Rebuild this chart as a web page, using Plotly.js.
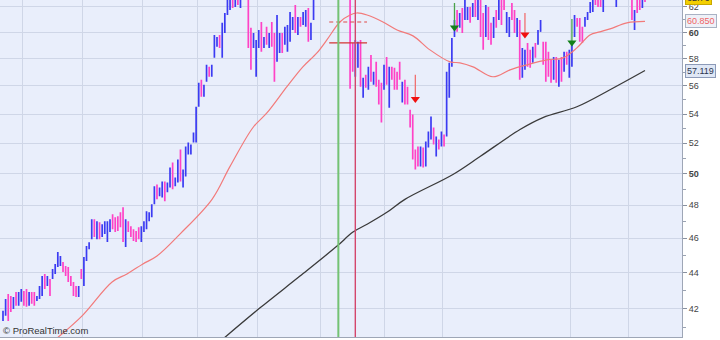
<!DOCTYPE html>
<html>
<head>
<meta charset="utf-8">
<script src="https://cdn.plot.ly/plotly-3.0.1.min.js"></script>
<style>html,body{margin:0;padding:0;background:#fff;}#chart{width:720px;height:340px;}</style>
</head>
<body>
<div id="chart"></div>
<script>
// ---- OHLC bars (daily) ----
const openP = [
41.5,41.8,42.6,42.5,42.1,42.8,42.3,42.5,42.9,42.9,
42.3,42.8,42.75,42.5,42.6,42.9,43.8,43.35,43.5,43.75,
44.0,44.45,44.5,44.5,44.3,44.2,43.7,43.4,43.1,42.75,
44.1,43.5,44.8,45.45,46.1,46.9,46.2,46.8,46.2,46.4,
46.0,46.5,47.3,47.1,47.2,47.4,47.6,45.8,46.9,46.6,
46.4,46.3,46.5,46.0,46.5,46.7,47.1,47.4,48.2,49.1,
48.65,48.7,49.3,48.9,49.3,50.5,49.3,49.6,51.3,49.3,
50.1,51.4,51.4,52.2,52.3,54.7,56.2,55.4,56.5,57.2,
56.8,58.2,59.0,59.6,58.3,60.2,61.6,62.0,63.2,62.3,
63.5,62.2,63.2,64.1,63.4,60.0,59.0,57.0,59.0,60.6,
58.9,60.2,59.0,60.5,59.7,58.1,58.6,59.8,59.2,58.8,
59.5,60.3,61.9,60.0,61.0,60.7,60.6,61.7,59.6,61.1,
62.8,63.4,64.1,63.7,64.5,65.2,64.7,64.1,65.3,64.6,
63.6,64.5,63.9,63.2,58.9,57.0,57.6,59.1,55.3,56.6,
55.9,58.0,56.2,57.5,56.2,55.9,55.9,57.9,54.8,57.2,
57.1,56.8,57.5,55.0,56.2,55.7,54.1,53.7,51.3,51.6,
50.7,51.5,50.7,51.9,52.4,52.9,51.3,52.1,51.9,52.45,
52.6,55.4,57.6,59.8,61.5,60.5,61.7,61.1,61.1,61.8,
61.4,62.5,61.2,62.5,61.2,59.9,61.7,60.5,59.7,61.5,
61.2,62.4,62.8,60.1,59.8,62.1,61.5,59.8,60.7,56.8,
57.3,58.9,58.4,57.8,59.0,59.2,60.1,59.0,59.0,58.3,
57.7,56.6,57.9,56.1,57.9,57.2,58.3,56.8,57.6,59.8,
61.0,60.9,60.2,60.5,61.05,61.6,61.7,62.8,62.9,62.8,
61.8,62.9,63.8,63.0,63.9,62.2,63.0,63.5,64.3,63.8,
63.4,63.0,60.4,62.8,62.8,62.1,62.95
];
const highP = [
41.89,42.54,42.81,42.70,42.65,42.92,42.92,43.09,42.98,43.09,
42.92,42.92,42.92,42.70,43.26,43.81,43.93,43.81,43.64,44.21,
44.50,45.19,44.96,44.61,44.38,44.33,43.81,43.48,43.26,43.26,
44.21,44.90,45.54,45.77,47.14,47.14,47.02,46.96,46.84,47.02,
47.02,47.14,47.45,47.26,47.32,47.57,47.88,47.14,47.02,46.72,
46.54,46.43,46.66,46.72,47.02,47.63,47.57,48.06,49.19,49.31,
49.12,49.50,49.50,49.44,50.40,50.72,49.76,50.92,51.58,50.27,
51.78,52.05,51.92,52.72,54.51,56.22,56.44,56.08,57.54,57.39,
57.54,59.80,59.65,59.80,60.74,61.52,63.2,63.4,63.5,63.6,
63.8,63.7,64.2,64.5,63.9,60.35,59.96,59.42,60.19,60.81,
59.65,60.43,59.96,60.81,59.96,61.36,59.96,59.96,60.43,60.58,
61.60,61.20,62.16,61.20,61.20,61.60,61.76,61.92,60.74,62.9,
63.6,64.2,64.4,64.8,65.3,65.5,65.0,65.2,65.6,64.8,
64.6,64.7,64.2,63.5,59.19,59.42,59.27,59.42,56.59,56.80,
57.39,58.28,57.02,57.76,56.44,56.22,57.54,58.13,57.39,57.39,
57.32,57.02,57.76,56.29,56.44,55.94,54.30,53.96,51.58,51.78,
51.78,51.72,52.12,52.79,53.82,53.07,52.45,52.25,52.79,52.59,
57.02,57.69,59.57,60.97,61.76,61.52,61.92,62.8,62.00,62.00,
62.32,62.8,62.9,62.8,61.52,62.16,62.00,60.74,61.20,61.76,
62.9,62.7,63.0,61.60,61.20,62.32,61.76,61.12,60.97,58.81,
58.66,59.19,58.66,58.89,59.19,60.19,60.97,59.27,59.27,58.51,
57.91,58.13,58.13,57.91,58.13,58.51,58.51,58.66,59.27,61.36,
61.12,61.12,60.43,61.20,61.60,62.40,62.9,63.0,63.1,63.0,
63.1,63.8,64.0,64.2,64.1,63.2,63.9,64.4,64.5,64.0,
63.6,63.2,61.76,63.0,63.0,63.1,63.0
];
const lowP = [
41.35,41.62,41.35,41.83,41.99,42.16,42.16,42.38,42.16,42.11,
42.16,42.27,42.16,42.43,42.54,42.70,43.09,43.26,42.70,43.64,
43.93,44.33,44.38,44.04,43.81,43.48,43.26,42.70,42.65,42.65,
43.64,43.26,44.67,45.36,45.95,46.07,45.95,45.95,46.07,46.25,
45.78,46.37,46.54,46.37,46.43,46.66,45.78,45.48,46.37,46.07,
45.84,45.78,45.95,45.78,46.37,46.54,47.02,47.26,48.06,48.37,
48.56,48.49,48.25,48.81,49.12,49.00,49.19,49.44,49.50,49.12,
49.82,51.25,51.25,52.05,52.05,54.51,55.22,55.22,56.29,56.66,
56.66,58.06,58.89,58.81,58.06,59.96,61.36,61.76,61.92,62.0,
62.16,61.92,62.9,63.0,58.81,57.17,58.81,56.66,58.81,58.51,
58.81,59.04,58.81,58.89,56.29,57.76,58.43,58.43,59.04,58.51,
59.27,60.19,59.96,59.80,60.43,60.58,60.43,59.27,59.42,60.97,
62.7,63.2,63.4,63.5,64.2,64.4,63.9,63.9,64.3,63.6,
63.3,63.5,62.9,55.79,57.02,56.66,57.32,55.94,55.15,55.86,
55.72,56.29,56.08,55.94,54.66,53.41,55.72,56.08,54.44,56.44,
55.72,55.72,56.44,54.80,54.66,54.66,53.07,50.92,50.27,50.47,
50.47,50.40,50.47,51.72,52.25,51.92,51.12,51.58,51.78,51.78,
52.45,55.15,57.39,59.65,60.04,60.35,59.96,60.97,60.97,60.74,
61.20,61.20,60.97,59.65,58.66,59.65,59.42,59.04,59.57,60.35,
60.97,60.58,61.76,59.96,59.65,60.97,59.96,59.65,56.44,56.59,
57.17,57.39,57.32,57.69,58.06,59.04,60.04,57.54,56.29,56.66,
56.22,56.44,56.22,55.94,56.29,57.02,57.54,56.59,57.39,59.65,
60.43,59.27,59.19,60.43,60.97,61.52,61.60,62.16,62.00,62.00,
61.60,62.7,62.9,62.8,62.8,62.00,62.8,63.2,63.3,62.9,
62.7,60.97,60.19,61.52,61.76,61.92,62.40
];
const closeP = [
41.8,42.4,41.6,42.0,42.5,42.3,42.8,42.95,42.3,42.3,
42.8,42.4,42.3,42.65,43.1,43.7,43.2,43.7,42.9,44.1,
44.4,45.0,44.85,44.15,43.9,43.6,43.35,42.85,42.75,43.15,
43.75,44.7,45.4,45.7,46.9,46.3,46.8,46.2,46.7,46.9,
46.85,47.0,46.7,46.5,46.6,46.8,46.2,46.9,46.5,46.2,
46.0,45.9,46.1,46.6,46.9,47.5,47.5,47.95,49.0,48.6,
49.0,49.4,48.5,49.3,50.2,49.3,49.65,50.7,49.8,50.1,
51.5,51.9,51.8,52.6,54.3,56.0,55.5,55.9,57.3,56.8,
57.4,59.6,59.5,59.0,60.5,61.3,62.9,63.1,62.2,63.3,
62.4,63.4,64.0,63.3,59.2,57.6,59.8,59.2,60.0,58.8,
59.5,59.3,59.8,59.2,56.7,61.0,59.8,58.6,60.2,60.3,
61.3,61.0,60.2,61.0,60.6,61.4,61.6,59.6,60.5,62.6,
63.4,64.0,63.6,64.6,65.1,64.6,64.1,65.0,64.5,63.8,
64.4,63.7,63.1,56.3,57.4,59.1,59.0,56.3,56.4,56.0,
57.1,56.6,56.9,56.2,54.9,53.8,57.3,56.4,57.1,56.6,
55.9,55.9,56.6,56.1,54.9,54.9,53.3,51.3,50.5,50.7,
51.5,50.6,51.9,52.6,53.6,52.1,52.2,51.7,52.6,51.9,
56.7,57.5,59.3,60.8,60.3,61.3,60.2,62.5,61.8,60.9,
62.1,61.4,62.6,59.9,59.0,61.9,59.7,59.3,61.0,60.5,
62.6,60.8,62.0,61.4,61.0,61.2,60.2,60.9,56.9,58.5,
58.4,57.6,57.5,58.7,58.2,60.0,60.8,57.8,56.6,56.9,
56.4,57.9,56.4,57.7,56.5,58.3,57.7,58.4,59.0,61.1,
60.6,59.5,59.4,61.0,61.5,62.2,62.6,62.3,62.2,62.2,
62.9,63.6,63.1,64.0,63.0,63.0,63.7,64.2,63.5,63.1,
62.9,61.3,61.5,61.8,62.0,62.9,62.76
];

// ---- Moving averages (bar index, value) ----
const maRedIdx = [19.9,30.3,41.8,47.5,53.6,59.0,67.8,80.1,87.0,95.8,101.2,108.8,114.9,120.3,124.1,129.1,133.0,135.6,139.5,145.6,151.0,157.1,163.6,171.3,175.1,180.1,187.7,194.3,200.8,208.4,214.6,219.9,224.9,228.7,232.6,239.1,246];
const maRedVal = [40.35,41.62,43.48,43.93,44.50,44.96,46.25,48.37,50.47,53.07,54.09,55.94,57.39,58.43,59.42,60.81,61.36,61.52,61.36,60.81,60.19,59.73,58.66,57.76,57.69,57.39,56.66,57.17,57.54,57.91,58.06,58.81,59.80,60.04,60.27,60.74,60.85];
const maBlackIdx = [83.9,98.5,113.8,128.0,134.1,139.5,147.1,154.0,172.4,182.8,198.1,206.9,219.9,232.6,246];
const maBlackVal = [40.35,42.05,43.81,45.54,46.37,46.84,47.57,48.37,49.95,51.12,52.93,53.75,54.51,55.72,57.119];

// ---- Signals / drawings ----
const sigIdx  = [158, 173, 200, 218];
const sigTop  = [56.80, 62.32, 61.52, 61.05];
const sigHead = [55.05, 60.38, 59.84, 59.23];
const sigType = ["sell", "buy", "sell", "buy"];
const vLineGreen = 128.5;
const vLineRed = 135;
const levelSpan = [125, 139.5];
const levelDashed = 60.81;
const levelSolid = 59.19;
const monthGrid = [7.5, 30.5, 53.5, 74.5, 97.5, 121.5, 146, 168.5, 217.5, 239.5];

// ---- Axis ticks / labels ----
const yTicks = [42,44,46,48,50,52,54,56,58,60,62];
const yTickText = ["42","44","46","48","<b>50</b>","52","54","56","58","<b>60</b>","62"];
const yMinor = [41,43,45,47,49,51,53,55,57,59,61];
const lastPrice = 62.76, lastPriceText = "62.76";
const maRedLabel = "60.850", maBlackLabel = "57.119";

const yRange = [1.60744, 1.79629];
const idx = openP.map((_, i) => i);
// position in paper units for a price (log axis)
const toPaper = v => (Math.log10(v) - yRange[0]) / (yRange[1] - yRange[0]);

const traces = [
  {
    type: "ohlc", x: idx, open: openP, high: highP, low: lowP, close: closeP,
    increasing: {line: {color: "#3b3bf2", width: 1.7}},
    decreasing: {line: {color: "#ff42c6", width: 1.7}},
    tickwidth: 0.32, hoverinfo: "skip"
  },
  {type: "scatter", mode: "lines", x: maRedIdx, y: maRedVal,
   line: {color: "#f27a7a", width: 1.2, shape: "spline"}, hoverinfo: "skip"},
  {type: "scatter", mode: "lines", x: maBlackIdx, y: maBlackVal,
   line: {color: "#3a3a3a", width: 1.3, shape: "spline"}, hoverinfo: "skip"},
  {type: "scatter", mode: "lines", x: levelSpan, y: [levelDashed, levelDashed],
   line: {color: "#e04848", width: 1.2, dash: "4px,3px"}, hoverinfo: "skip"},
  {type: "scatter", mode: "lines", x: levelSpan, y: [levelSolid, levelSolid],
   line: {color: "#d23434", width: 1.3}, hoverinfo: "skip"}
];

["buy", "sell"].forEach(t => {
  const xs = [], ys = [], hx = [], hy = [];
  sigIdx.forEach((v, k) => {
    if (sigType[k] !== t) return;
    xs.push(v, v, null); ys.push(sigTop[k], sigHead[k], null);
    hx.push(v); hy.push(sigHead[k]);
  });
  traces.push({type: "scatter", mode: "lines", x: xs, y: ys,
    line: {color: t === "buy" ? "#4aa24a" : "#f07070", width: 1.3}, hoverinfo: "skip"});
  traces.push({type: "scatter", mode: "markers", x: hx, y: hy,
    marker: {symbol: "triangle-down", size: 8, color: t === "buy" ? "#12801a" : "#f01010"}, hoverinfo: "skip"});
});

const boxFont = {family: "Liberation Sans, Arial, sans-serif", size: 9};
const layout = {
  width: 720, height: 340,
  margin: {l: 0, r: 38, t: 0, b: 3, pad: 0},
  paper_bgcolor: "#ffffff", plot_bgcolor: "#e9eefb",
  showlegend: false,
  font: {family: "Liberation Sans, Arial, sans-serif", size: 9, color: "#444"},
  xaxis: {
    range: [-1.15, 260.18], tickmode: "array", tickvals: monthGrid, showticklabels: false,
    ticks: "", showgrid: true, gridcolor: "#cfd6e7", gridwidth: 1, zeroline: false,
    showline: true, linecolor: "#9ea6b6", linewidth: 1, fixedrange: true,
    rangeslider: {visible: false}
  },
  yaxis: {
    type: "log", side: "right", range: yRange,
    tickmode: "array", tickvals: yTicks, ticktext: yTickText,
    ticks: "outside", ticklen: 4, tickcolor: "#8890a0", tickwidth: 1,
    tickfont: {size: 9, color: "#444"},
    showgrid: true, gridcolor: "#cfd6e7", gridwidth: 1, zeroline: false,
    showline: true, linecolor: "#9ea6b6", linewidth: 1, fixedrange: true,
    minor: {tickmode: "array", tickvals: yMinor, ticks: "outside", ticklen: 3, tickcolor: "#9aa2b2", showgrid: false}
  },
  shapes: [
    {type: "line", xref: "x", yref: "paper", x0: vLineGreen, x1: vLineGreen, y0: 0, y1: 1,
     line: {color: "#74c274", width: 2}},
    {type: "line", xref: "x", yref: "paper", x0: vLineRed, x1: vLineRed, y0: 0, y1: 1,
     line: {color: "#d4466c", width: 1.4}}
  ],
  annotations: [
    {xref: "paper", yref: "paper", x: 1, y: toPaper(lastPrice), xanchor: "left", yanchor: "middle",
     xshift: 3, text: lastPriceText, showarrow: false, font: Object.assign({}, boxFont, {color: "#333"}),
     bgcolor: "#f3cf00", bordercolor: "#c8a800", borderwidth: 1, borderpad: 1},
    {xref: "paper", yref: "paper", x: 1, y: toPaper(maRedVal[maRedVal.length - 1]), xanchor: "left", yanchor: "middle",
     xshift: 3, text: maRedLabel, showarrow: false, font: Object.assign({}, boxFont, {color: "#f06464"}),
     bgcolor: "#eef1f8", bordercolor: "#a9b2c4", borderwidth: 1, borderpad: 1},
    {xref: "paper", yref: "paper", x: 1, y: toPaper(maBlackVal[maBlackVal.length - 1]), xanchor: "left", yanchor: "middle",
     xshift: 3, text: maBlackLabel, showarrow: false, font: Object.assign({}, boxFont, {color: "#2c3550"}),
     bgcolor: "#dfe7f5", bordercolor: "#8c9ab8", borderwidth: 1, borderpad: 1},
    {xref: "paper", yref: "paper", x: 0, y: 0, xanchor: "left", yanchor: "bottom", xshift: 1, yshift: -1,
     text: "© ProRealTime.com", showarrow: false,
     font: {family: "Liberation Sans, Arial, sans-serif", size: 9.5, color: "#333"}}
  ]
};

Plotly.newPlot("chart", traces, layout, {staticPlot: true, displayModeBar: false});
</script>
</body>
</html>
